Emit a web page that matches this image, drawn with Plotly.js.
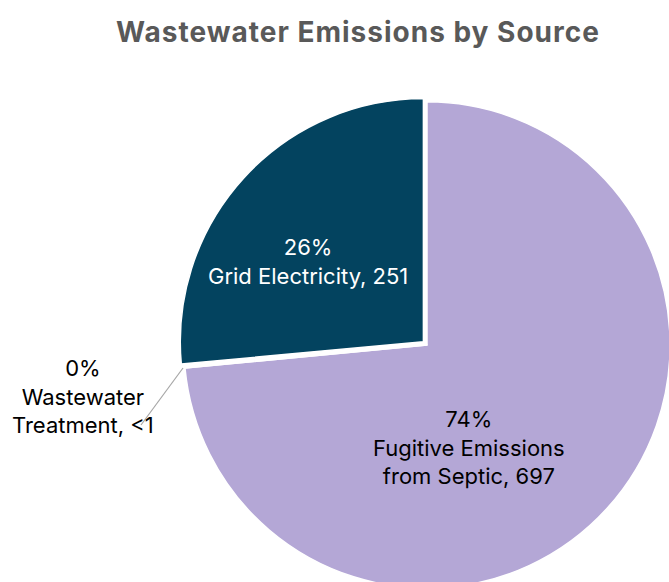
<!DOCTYPE html>
<html><head><meta charset="utf-8">
<script src="https://cdn.plot.ly/plotly-3.0.1.min.js"></script>
<style>html,body{margin:0;padding:0;overflow:hidden;background:#fff;width:669px;height:582px;}
.gtitle{letter-spacing:1px;}</style>
</head><body><div id="chart"></div>
<script>
const categories = ["Fugitive Emissions from Septic", "Wastewater Treatment", "Grid Electricity"];
const values = [697, 0.5, 251];
const valueLabels = ["697", "<1", "251"];
const pctLabels = ["74%", "0%", "26%"];
const labelLines = [["Fugitive Emissions", "from Septic"], ["Wastewater", "Treatment"], ["Grid Electricity"]];
const colors = ["#B4A7D6", "#A5A5A5", "#03435F"];
const textColors = ["#000000", "#000000", "#FFFFFF"];

const W = 680, H = 600;
const px = x => x / W, py = y => 1 - y / H;
const labelPos = [[469, 447], [83, 396], [308, 261]];

const annotations = categories.map((c, i) => {
  const lines = labelLines[i].slice();
  lines[lines.length - 1] += ", " + valueLabels[i];
  return {
    xref: "paper", yref: "paper", x: px(labelPos[i][0]), y: py(labelPos[i][1]),
    xanchor: "center", yanchor: "middle", showarrow: false, align: "center",
    text: [pctLabels[i]].concat(lines).join("<br>"),
    font: {family: "Inter, Liberation Sans, sans-serif", size: 22, color: textColors[i]}
  };
});

const data = [{
  type: "pie",
  labels: categories,
  values: values,
  sort: false,
  direction: "clockwise",
  rotation: 0,
  pull: [0, 0, 0.02],
  marker: {colors: colors, line: {color: "#FFFFFF", width: 1.5}},
  textinfo: "none",
  hoverinfo: "label+value+percent",
  domain: {x: [179 / W, 675 / W], y: [py(593), py(97)]},
  showlegend: false
}];

const layout = {
  width: W, height: H,
  margin: {l: 0, r: 0, t: 0, b: 0},
  paper_bgcolor: "#FFFFFF",
  showlegend: false,
  title: {
    text: "<b>Wastewater Emissions by Source</b>",
    x: px(358), xanchor: "center", y: py(32), yanchor: "middle", yref: "container",
    font: {family: "Inter, Liberation Sans, sans-serif", size: 28, color: "#595959"}
  },
  annotations: annotations,
  shapes: [{type: "line", xref: "paper", yref: "paper", x0: px(183), y0: py(368), x1: px(141), y1: py(425),
            line: {color: "#A6A6A6", width: 1.2}}]
};

Plotly.newPlot("chart", data, layout, {displayModeBar: false, staticPlot: true});
</script></body></html>
